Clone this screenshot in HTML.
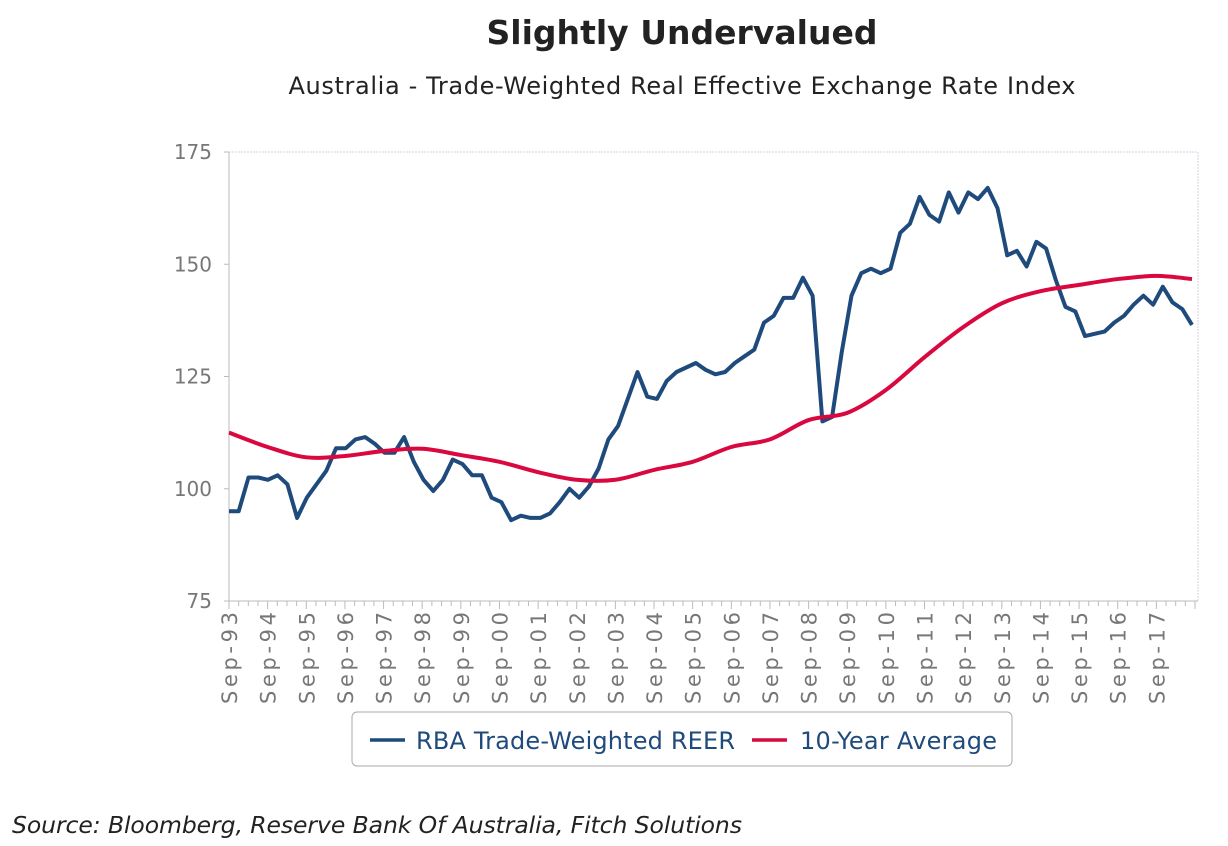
<!DOCTYPE html>
<html><head><meta charset="utf-8"><style>
body{margin:0;background:#fff;width:1228px;height:842px;overflow:hidden;font-family:"DejaVu Sans","Liberation Sans",sans-serif}
</style></head><body>
<svg width="1228" height="842" id="svg">
<text x="682" y="44" text-anchor="middle" font-size="33" font-weight="bold" fill="#222" textLength="391">Slightly Undervalued</text>
<text x="682" y="94" text-anchor="middle" font-size="24" fill="#222" textLength="787">Australia - Trade-Weighted Real Effective Exchange Rate Index</text>
<rect x="229" y="152" width="969" height="449" fill="none" stroke="#d8cfe0" stroke-dasharray="2,1"/>
<g id="axes"></g>
<g id="series"></g>
<rect x="352" y="712" width="660" height="54" rx="5" fill="#fff" stroke="#aaa"/>
<line x1="370" y1="740" x2="405" y2="740" stroke="#1f4a7c" stroke-width="3.5"/>
<text x="416" y="749" font-size="24" fill="#1f4a7c" textLength="319">RBA Trade-Weighted REER</text>
<line x1="752" y1="740" x2="787" y2="740" stroke="#d9083f" stroke-width="3.5"/>
<text x="800" y="749" font-size="24" fill="#1f4a7c" textLength="197">10-Year Average</text>
<text x="12" y="833" font-size="23.5" font-style="italic" fill="#222" textLength="730">Source: Bloomberg, Reserve Bank Of Australia, Fitch Solutions</text>
</svg>
<script>
const yTicks=[75,100,125,150,175];
const xLabels=["Sep-93","Sep-94","Sep-95","Sep-96","Sep-97","Sep-98","Sep-99","Sep-00","Sep-01","Sep-02","Sep-03","Sep-04","Sep-05","Sep-06","Sep-07","Sep-08","Sep-09","Sep-10","Sep-11","Sep-12","Sep-13","Sep-14","Sep-15","Sep-16","Sep-17"];
const reer=[95,95,102.5,102.5,102,103,101,93.5,98,101,104,109,109,111,111.5,110,108,108,111.5,106,102,99.5,102,106.5,105.5,103,103,98,97,93,94,93.5,93.5,94.5,97,100,98,100.5,104.5,111,114,120,126,120.5,120,124,126,127,128,126.5,125.5,126,128,129.5,131,137,138.5,142.5,142.5,147,143,115,116,130.5,143,148,149,148,149,157,159,165,161,159.5,166,161.5,166,164.5,167,162.5,152,153,149.5,155,153.5,146.5,140.5,139.5,134,134.5,135,137,138.5,141,143,141,145,141.5,140,136.5];
const avgYears=[112.5,109.3,107,107.3,108.4,108.9,107.5,106,103.7,102,102,104.2,106,109.3,111,115.3,116.9,122,129.3,136,141.3,144,145.4,146.7,147.4,146.7];
const X0=229,Q=9.66,Y0=601,PX=4.49;
const xs=q=>X0+q*Q, ys=v=>Y0-(v-75)*PX;
const NS="http://www.w3.org/2000/svg";
const ax=document.getElementById('axes'),se=document.getElementById('series');
function mk(t,a,p){const e=document.createElementNS(NS,t);for(const k in a)e.setAttribute(k,a[k]);p.appendChild(e);return e;}
const yl=mk('line',{x1:X0,y1:152,x2:X0,y2:601,stroke:'#bbb'},ax);


const xl=mk('line',{x1:X0,y1:601,x2:1198,y2:601,stroke:'#bbb'},ax);


yTicks.forEach(v=>{const t=mk('text',{x:212,y:ys(v)+7,'text-anchor':'end','font-size':20,fill:'#777'},ax);t.textContent=v;


mk('line',{x1:X0-5,y1:ys(v),x2:X0,y2:ys(v),stroke:'#bbb'},ax);});
for(let q=0;q<=100;q++){mk('line',{x1:xs(q),y1:601,x2:xs(q),y2:q%4==0?609:606,stroke:'#bbb'},ax);}
xLabels.forEach((s,i)=>{const x=xs(i*4)+8;const t=mk('text',{x:x,y:612,'text-anchor':'end','font-size':21,fill:'#777',textLength:92,transform:`rotate(-90 ${x} 612)`},ax);t.textContent=s;

});
const step=(1192-229)/(reer.length-1)/Q;
let d=reer.map((v,i)=>(i?'L':'M')+xs(i*step).toFixed(1)+','+ys(v).toFixed(1)).join('');
const p1=mk('path',{d:d,fill:'none',stroke:'#1f4a7c','stroke-width':4,'stroke-linejoin':'round'},se);


const pts=avgYears.map((v,i)=>[Math.min(xs(i*4),1192),ys(v)]);
let d2='M'+pts[0];
for(let i=0;i<pts.length-1;i++){const p0=pts[Math.max(0,i-1)],a=pts[i],b=pts[i+1],c=pts[Math.min(pts.length-1,i+2)];
d2+=`C${a[0]+(b[0]-p0[0])/6},${a[1]+(b[1]-p0[1])/6} ${b[0]-(c[0]-a[0])/6},${b[1]-(c[1]-a[1])/6} ${b[0]},${b[1]}`;}
const p2=mk('path',{d:d2,fill:'none',stroke:'#d9083f','stroke-width':4},se);


</script>
</body></html>
